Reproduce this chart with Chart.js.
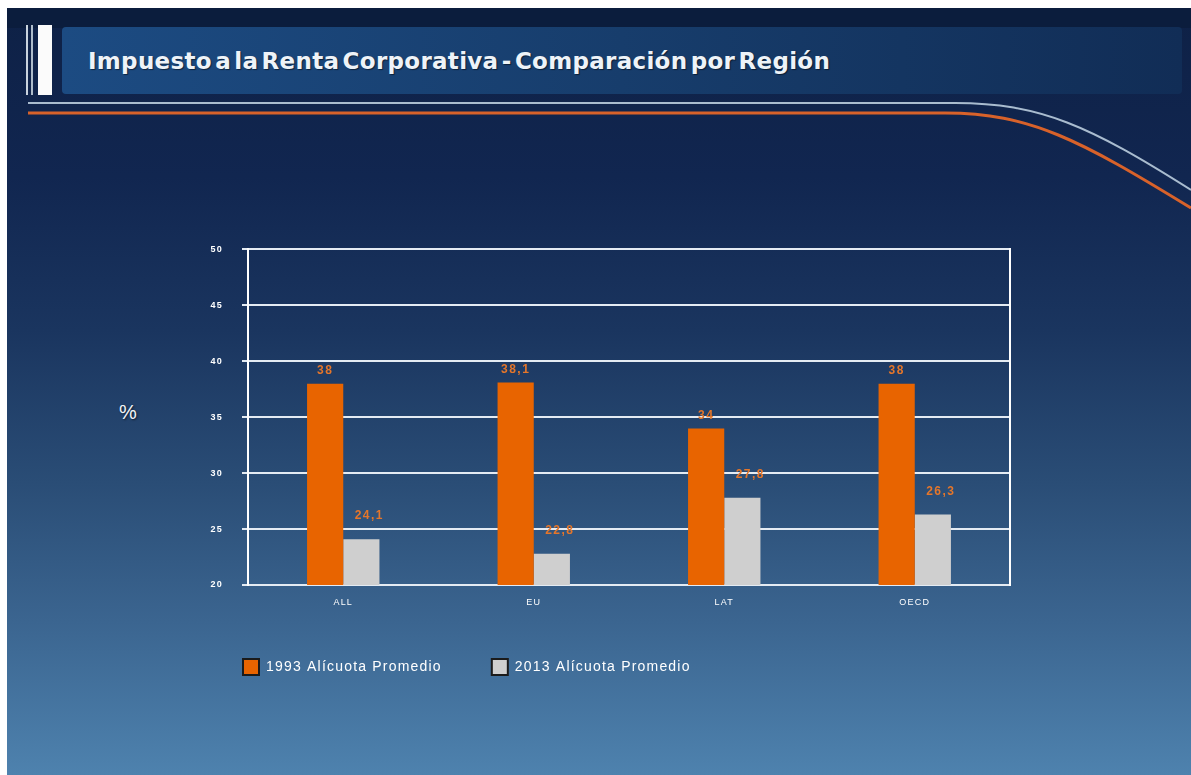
<!DOCTYPE html>
<html>
<head>
<meta charset="utf-8">
<script src="https://cdn.jsdelivr.net/npm/chart.js@4"></script>
<style>
  html, body { margin: 0; padding: 0; background: #ffffff; }
  body { width: 1191px; height: 775px; position: relative; overflow: hidden; }
  #fondo {
    position: absolute; left: 7px; top: 8px; width: 1184px; height: 767px;
    background: linear-gradient(to bottom, #0e2146 0%, #112650 22%, #1a355f 42%, #2a4d76 62%, #3b6590 80%, #4e82ae 100%);
  }
  #deco { position: absolute; left: 0; top: 0; }
  #titulo {
    position: absolute; left: 88px; top: 48px;
    font-family: "DejaVu Sans", sans-serif; font-weight: bold; font-size: 23px;
    color: #eef3f8; word-spacing: -5px; letter-spacing: 0.3px; text-shadow: 1px 1px 1px rgba(0,0,0,0.5);
  }
  #porcentaje {
    position: absolute; left: 119px; top: 401px;
    font-family: "Liberation Sans", Arial, sans-serif; font-size: 20px; color: #f2f5f8;
    text-shadow: 1px 1px 2px rgba(0,0,0,0.6);
  }
  #caja { position: absolute; left: 193px; top: 225px; width: 837px; height: 460px; }
</style>
</head>
<body>
<div id="fondo"></div>
<svg id="deco" width="1191" height="775">
  <defs>
    <linearGradient id="barra" x1="0" y1="0" x2="1" y2="0">
      <stop offset="0" stop-color="#1c4b82"/>
      <stop offset="0.5" stop-color="#173d6c"/>
      <stop offset="1" stop-color="#112d56"/>
    </linearGradient>
  </defs>
  <rect x="7" y="8" width="1184" height="20" fill="#0b1d3d"/>
  <rect x="62" y="27" width="1120" height="67" rx="4" fill="url(#barra)"/>
  <rect x="26" y="25" width="2" height="70" fill="#c9d3de"/>
  <rect x="31" y="25" width="2" height="70" fill="#aebccb"/>
  <rect x="38" y="25" width="14" height="70" fill="#fbfbfb"/>
  <path d="M 28 103 L 955 103 C 1040 103, 1090 126, 1191 190" fill="none" stroke="#a9bccf" stroke-width="2"/>
  <path d="M 28 113 L 945 113 C 1030 113, 1080 140, 1191 208" fill="none" stroke="#d8622a" stroke-width="3"/>
</svg>
<div id="titulo">Impuesto a la Renta Corporativa - Comparación por Región</div>
<div id="porcentaje">%</div>
<div id="caja"><canvas id="grafico"></canvas></div>
<script>
// Datos
const regiones = ['ALL', 'EU', 'LAT', 'OECD'];
const alicuota1993 = [38, 38.1, 34, 38];
const alicuota2013 = [24.1, 22.8, 27.8, 26.3];
const etiquetasSeries = ['1993 Alícuota Promedio', '2013 Alícuota Promedio'];
const ticksY = [20, 25, 30, 35, 40, 45, 50];

const naranja = '#e86400';
const gris = '#cfcfcf';

// Espaciado de letras, para imitar el texto ensanchado del original
const espaciado = {
    id: 'espaciado',
    beforeUpdate(chart) { chart.ctx.letterSpacing = '1.2px'; },
    beforeDraw(chart) { chart.ctx.letterSpacing = '1.2px'; }
};

// Etiquetas de valores encima de las barras
const etiquetasValores = {
    id: 'etiquetasValores',
    afterDatasetsDraw(chart) {
        const ctx = chart.ctx;
        ctx.save();
        ctx.letterSpacing = '1.5px';
        ctx.font = 'bold 12px "Liberation Sans", Arial, sans-serif';
        ctx.fillStyle = '#e5762a';
        ctx.textAlign = 'center';
        ctx.textBaseline = 'middle';
        chart.data.datasets.forEach((ds, i) => {
            chart.getDatasetMeta(i).data.forEach((bar, j) => {
                const txt = String(ds.data[j]).replace('.', ',');
                if (i === 0) ctx.fillText(txt, bar.x, bar.y - 13);
                else ctx.fillText(txt, bar.x + 8, bar.y - 23);
            });
        });
        ctx.restore();
    }
};

const ctx = document.getElementById('grafico').getContext('2d');
const grafico = new Chart(ctx, {
    type: 'bar',
    data: {
        labels: regiones,
        datasets: [
            { label: etiquetasSeries[0], data: alicuota1993, backgroundColor: naranja, borderWidth: 0 },
            { label: etiquetasSeries[1], data: alicuota2013, backgroundColor: gris, borderWidth: 0 }
        ]
    },
    options: {
        responsive: true,
        maintainAspectRatio: false,
        animation: false,
        datasets: { bar: { barPercentage: 1.0, categoryPercentage: 0.38 } },
        layout: { padding: { top: 9, left: 0, right: 0, bottom: 0 } },
        scales: {
            x: {
                grid: { display: false, drawTicks: false },
                border: { display: false },
                ticks: { color: '#ffffff', padding: 12, font: { family: '"Liberation Sans", Arial', size: 9 } },
                afterFit(scale) { scale.height = 24; }
            },
            y: {
                min: 20,
                max: 50,
                afterBuildTicks(scale) { scale.ticks = ticksY.map(v => ({ value: v })); },
                grid: { color: '#e4ebf3', lineWidth: 2, tickLength: 6 },
                border: { color: '#ffffff', width: 2 },
                ticks: { color: '#ffffff', padding: 19, font: { family: '"Liberation Sans", Arial', size: 9, weight: 'bold' } },
                afterFit(scale) { scale.width = 55; }
            },
            y2: {
                position: 'right',
                min: 20,
                max: 50,
                grid: { drawOnChartArea: false, drawTicks: false },
                border: { color: '#ffffff', width: 2 },
                ticks: { display: false },
                afterFit(scale) { scale.width = 20; }
            }
        },
        plugins: {
            legend: {
                position: 'bottom',
                align: 'start',
                labels: {
                    color: '#ffffff',
                    boxWidth: 16,
                    boxHeight: 16,
                    padding: 50,
                    font: { family: '"Liberation Sans", Arial', size: 14 },
                    generateLabels(chart) {
                        const items = Chart.defaults.plugins.legend.labels.generateLabels(chart);
                        items.forEach(it => { it.strokeStyle = '#1b1b1b'; it.lineWidth = 2; });
                        return items;
                    }
                }
            },
            tooltip: { enabled: false }
        }
    },
    plugins: [espaciado, etiquetasValores]
});
</script>
</body>
</html>
